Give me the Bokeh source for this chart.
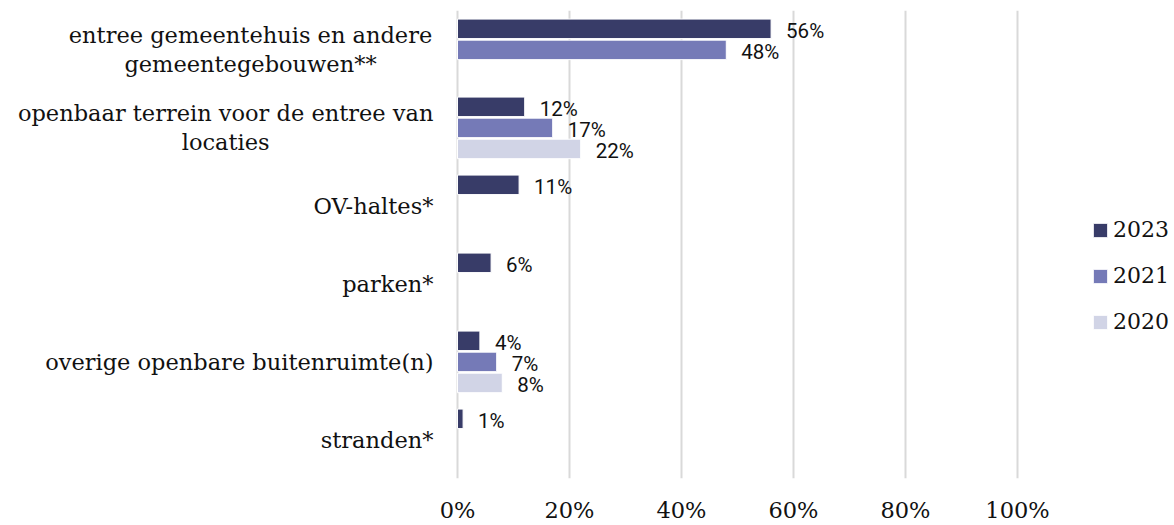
from bokeh.plotting import figure
from bokeh.models import ColumnDataSource, Range1d, FixedTicker, PrintfTickFormatter, Legend, LegendItem
from bokeh.core.properties import value
from bokeh.embed import file_html
from bokeh.resources import INLINE

# ---- data ----
categories = [
    "entree gemeentehuis en andere\ngemeentegebouwen**",
    "openbaar terrein voor de entree van\nlocaties",
    "OV-haltes*",
    "parken*",
    "overige openbare buitenruimte(n)",
    "stranden*",
]
years = ["2023", "2021", "2020"]
values_2023 = [56, 12, 11, 6, 4, 1]
values_2021 = [48, 17, None, None, 7, None]
values_2020 = [None, 22, None, None, 8, None]
x_ticks = [0, 20, 40, 60, 80, 100]

colors = {"2023": "#383c68", "2021": "#757ab7", "2020": "#d1d4e6"}
offsets = {"2023": -0.265, "2021": 0.005, "2020": 0.275}
series = {"2023": values_2023, "2021": values_2021, "2020": values_2020}

SERIF = "DejaVu Serif"
SANS = "Roboto"

p = figure(width=1174, height=525, output_backend="svg", toolbar_location=None,
           x_range=Range1d(-81.607, 128.04), y_range=Range1d(6, 0),
           y_axis_location=None, min_border_left=0, min_border_right=0,
           min_border_top=10, min_border_bottom=0)
p.outline_line_color = None
p.background_fill_color = "white"
p.ygrid.grid_line_color = None
p.xgrid.ticker = FixedTicker(ticks=x_ticks)
p.xgrid.grid_line_color = "#d9d9d9"
p.xgrid.grid_line_width = 2

ax = p.xaxis[0]
ax.ticker = FixedTicker(ticks=x_ticks)
ax.formatter = PrintfTickFormatter(format="%d%%")
ax.axis_line_color = None
ax.major_tick_line_color = None
ax.minor_tick_line_color = None
ax.major_tick_out = 0
ax.major_tick_in = 0
ax.major_label_standoff = 18
ax.major_label_text_font = SERIF
ax.major_label_text_font_size = "22.5px"
ax.major_label_text_color = "#111111"

items = []
for yr in years:
    ys, xs, labels = [], [], []
    for i, v in enumerate(series[yr]):
        if v is None:
            continue
        ys.append(i + 0.5 + offsets[yr])
        xs.append(v)
        labels.append(f"{v}%")
    src = ColumnDataSource(dict(y=ys, right=xs, label=labels))
    r = p.hbar(y="y", left=0, right="right", height=0.25, source=src,
               fill_color=colors[yr], line_color="white", line_width=1)
    p.text(x="right", y="y", text="label", source=src, x_offset=15, y_offset=2,
           text_font=value(SANS), text_font_size="20.5px", text_color="#111111",
           text_baseline="middle", text_align="left")
    items.append(LegendItem(label=yr, renderers=[r]))

# category labels
single_x = -4.29
lab_x, lab_y, lab_t, lab_a = [], [], [], []
centers = {0: -36.96, 1: -41.4}
for i, c in enumerate(categories):
    if i in centers:
        lab_x.append(centers[i]); lab_a.append("center")
    else:
        lab_x.append(single_x); lab_a.append("right")
    lab_y.append(i + 0.5)
    lab_t.append(c)
lsrc = ColumnDataSource(dict(x=lab_x, y=lab_y, t=lab_t, a=lab_a))
p.text(x="x", y="y", text="t", source=lsrc, text_align="a", text_baseline="middle",
       text_font=value(SERIF), text_font_size="22.5px", text_color="#111111",
       text_line_height=1.15)

legend = Legend(items=items, location=(1091, 144), orientation="vertical",
                padding=0, margin=0, spacing=21, glyph_width=18, glyph_height=18,
                label_standoff=4, label_text_font=SERIF, label_text_font_size="22px",
                label_text_color="#111111", border_line_color=None,
                background_fill_alpha=0)
p.add_layout(legend)

open("out.html", "w").write(file_html(p, INLINE))
